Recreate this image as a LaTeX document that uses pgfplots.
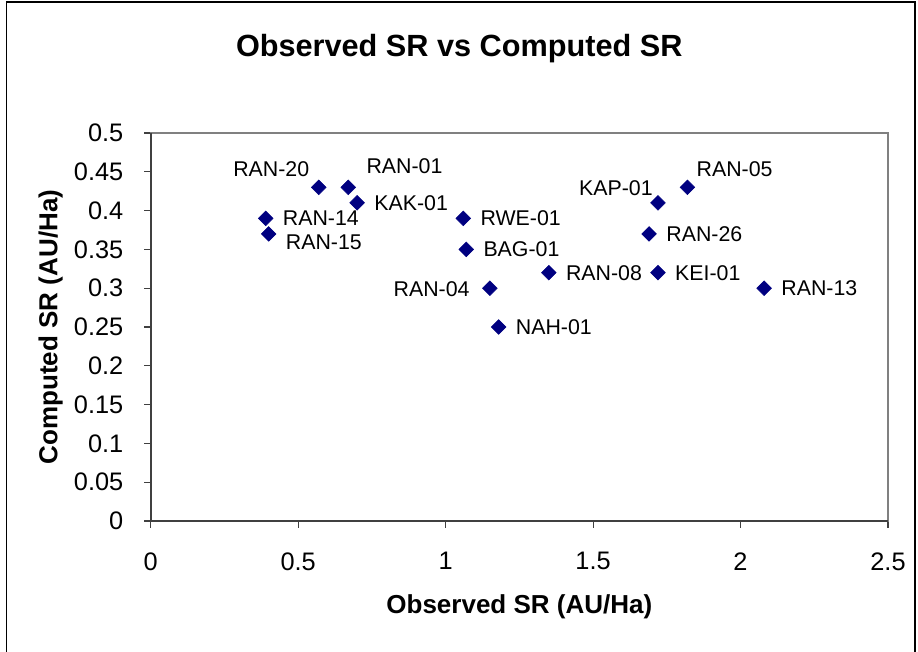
\documentclass[border=0pt]{standalone}
\usepackage{fontspec}
\setmainfont{Liberation Sans}
\usepackage{pgfplots}
\usepackage{pgfplotstable}
\pgfplotsset{compat=1.18}

\definecolor{navy}{HTML}{000080}
\definecolor{framegray}{HTML}{808080}
\definecolor{axisdark}{HTML}{404040}

% observed SR, computed SR, site name, label anchor angle (180 = west, 0 = east), shifts in pt
\pgfplotstableread{
x y name ang dx dy
0.57 0.43 RAN-20 0 -7 13.5
0.67 0.43 RAN-01 180 13.5 15.5
0.70 0.41 KAK-01 180 12.75 0
0.39 0.39 RAN-14 180 12.75 0
0.40 0.37 RAN-15 180 12.75 -6
1.06 0.39 RWE-01 180 12.75 0
1.07 0.35 BAG-01 180 12.75 0
1.15 0.30 RAN-04 0 -15 -1
1.18 0.25 NAH-01 180 12.75 0
1.35 0.32 RAN-08 180 12.75 0
1.72 0.41 KAP-01 0 -3.75 11
1.82 0.43 RAN-05 180 6.75 13.7
1.69 0.37 RAN-26 180 12.75 0
1.72 0.32 KEI-01 180 12.75 0
2.08 0.30 RAN-13 180 12.75 0
}\sites

\begin{document}
\begin{tikzpicture}
\useasboundingbox (0,0) rectangle (688.5pt,489pt);
\draw[line width=1.2pt] (5pt,-10pt) -- (5pt,487.3pt) -- (686.3pt,487.3pt) -- (686.3pt,-10pt);
\begin{axis}[
  at={(113pt,98.25pt)}, anchor=south west,
  scale only axis,
  width=553pt, height=291pt,
  xmin=0, xmax=2.5, ymin=0, ymax=0.5,
  xtick={0,0.5,...,2.5},
  ytick={0,0.05,0.1,0.15,0.2,0.25,0.3,0.35,0.4,0.45,0.5},
  scaled ticks=false,
  /pgf/number format/assume math mode=true,
  yticklabel style={/pgf/number format/fixed, /pgf/number format/precision=2,
    xshift=-12pt},
  xticklabel style={yshift=-15pt},
  tick label style={font=\fontsize{19}{21}\selectfont, black},
  tick align=outside,
  major tick length=5pt,
  xtick pos=bottom, ytick pos=left,
  tick style={axisdark, line width=0.8pt},
  axis line style={framegray, line width=1.3pt},
  title={Observed SR vs Computed SR},
  title style={font=\bfseries\fontsize{23}{25}\selectfont,
    at={(rel axis cs:0.4185,1)}, anchor=center, yshift=57pt},
  xlabel={Observed SR (AU/Ha)},
  ylabel={Computed SR (AU/Ha)},
  label style={font=\bfseries\fontsize{19.5}{21}\selectfont},
  xlabel style={at={(rel axis cs:0.5,0)}, anchor=center, yshift=-64pt},
  ylabel style={at={(rel axis cs:0,0.5)}, anchor=center, yshift=75pt},
  clip=false,
  after end axis/.code={
    \draw[axisdark, line width=1.3pt] (rel axis cs:0,1) -- (rel axis cs:0,0) -- (rel axis cs:1,0);
  },
]
\addplot[
  only marks,
  mark=square*,
  mark size=3.9pt,
  mark options={rotate=45, fill=navy, draw=navy},
  point meta=explicit symbolic,
  visualization depends on={\thisrow{ang} \as \ang},
  visualization depends on={\thisrow{dx} \as \dx},
  visualization depends on={\thisrow{dy} \as \dy},
  nodes near coords,
  every node near coord/.append style={anchor=\ang, xshift=\dx pt, yshift=\dy pt,
    inner sep=0pt, font=\fontsize{16}{18}\selectfont, black},
] table[x=x, y=y, meta=name] {\sites};
\end{axis}
\end{tikzpicture}
\end{document}
